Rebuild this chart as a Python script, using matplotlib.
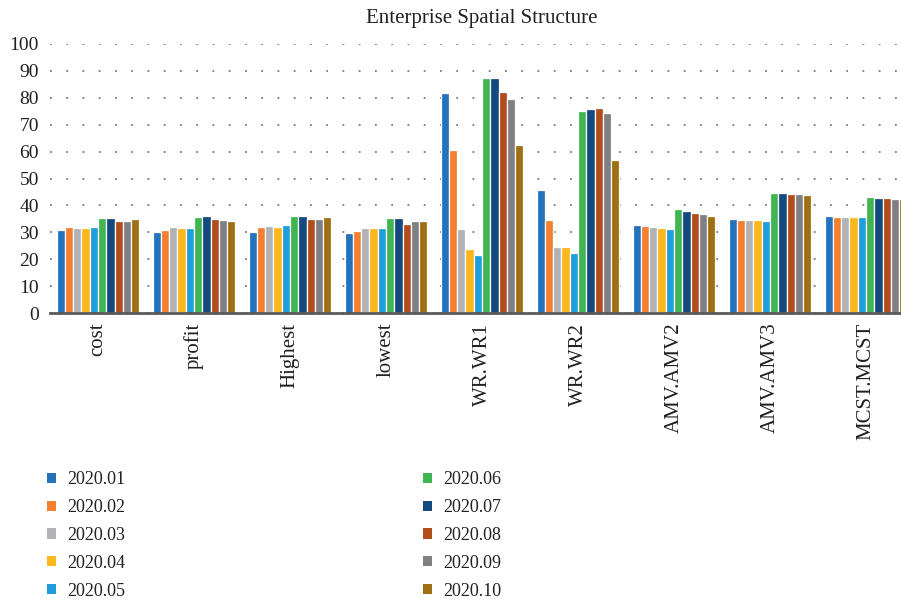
import matplotlib.pyplot as plt
from matplotlib.patches import Patch
import numpy as np

# data
categories = ["cost", "profit", "Highest", "lowest", "WR.WR1", "WR.WR2",
              "AMV.AMV2", "AMV.AMV3", "MCST.MCST"]
series_names = ["2020.01", "2020.02", "2020.03", "2020.04", "2020.05",
                "2020.06", "2020.07", "2020.08", "2020.09", "2020.10"]

v_2020_01 = [30.8, 30.2, 30.2, 29.7, 81.7, 45.7, 32.6, 34.8, 36.0]
v_2020_02 = [32.1, 30.8, 32.1, 30.5, 60.6, 34.6, 32.2, 34.7, 35.8]
v_2020_03 = [31.7, 32.1, 32.3, 31.5, 31.3, 24.6, 31.9, 34.6, 35.7]
v_2020_04 = [31.6, 31.5, 32.0, 31.5, 23.9, 24.7, 31.7, 34.6, 35.7]
v_2020_05 = [32.0, 31.7, 32.6, 31.5, 21.6, 22.4, 31.4, 34.3, 35.7]
v_2020_06 = [35.2, 35.6, 36.0, 35.2, 87.3, 75.1, 38.5, 44.6, 43.1]
v_2020_07 = [35.2, 36.0, 36.0, 35.2, 87.5, 75.7, 38.0, 44.6, 42.8]
v_2020_08 = [34.2, 34.8, 34.8, 33.0, 82.1, 76.3, 37.3, 44.3, 42.7]
v_2020_09 = [34.2, 34.6, 34.8, 34.2, 79.6, 74.3, 36.8, 44.1, 42.5]
v_2020_10 = [34.8, 34.2, 35.6, 34.2, 62.3, 56.7, 36.2, 43.8, 42.3]

series = [v_2020_01, v_2020_02, v_2020_03, v_2020_04, v_2020_05,
          v_2020_06, v_2020_07, v_2020_08, v_2020_09, v_2020_10]
colors = ["#2672BA", "#F47F30", "#B1B2B5", "#FDB71C", "#1F9ED9",
          "#42B553", "#154A80", "#B24C1A", "#7F8084", "#9F6F13"]

plt.rcParams["font.family"] = ["Liberation Serif", "DejaVu Serif"]

W, H = 901, 601
fig = plt.figure(figsize=(W / 100, H / 100), dpi=100)
# axis runs past the right edge of the picture, as in the reference
ax = fig.add_axes([50 / W, (H - 313) / H, 864 / W, (313 - 44) / H])

x = np.arange(len(categories))
slot = 0.086
for i, (vals, c) in enumerate(zip(series, colors)):
    off = (i - 4.5) * slot
    ax.bar(x + off, vals, width=slot, color=c, edgecolor="white",
           linewidth=0.9, zorder=3)

ax.set_xlim(-0.5, len(categories) - 0.5)
ax.set_ylim(0, 100)
ax.set_yticks(np.arange(0, 101, 10))
ax.set_xticks(x)
ax.set_xticklabels(categories, rotation=90, fontsize=15, color="#231f20")
ax.tick_params(axis="y", labelsize=14, length=0, pad=8, colors="#231f20")
ax.tick_params(axis="x", length=0, pad=7)

ax.grid(axis="y", color="#7a7a7a", linestyle=(0, (1, 8)), linewidth=1.3, zorder=0)
for s in ["top", "right", "left"]:
    ax.spines[s].set_visible(False)
ax.spines["bottom"].set_color("#5a5a5a")
ax.spines["bottom"].set_linewidth(2)
ax.spines["bottom"].set_zorder(4)

fig.text(482 / W, 1 - 18 / H, "Enterprise Spatial Structure", ha="center",
         va="center", fontsize=15, color="#231f20")

handles = [Patch(facecolor=c, edgecolor="none") for c in colors]
fig.legend(handles, series_names, loc="upper left", ncol=2,
           bbox_to_anchor=(31 / W, 1 - 455 / H), frameon=False,
           fontsize=13, handlelength=0.5, handleheight=0.5,
           handletextpad=0.6, columnspacing=16.5, labelspacing=0.6,
           labelcolor="#231f20")

fig.savefig("out.png", dpi=100)
